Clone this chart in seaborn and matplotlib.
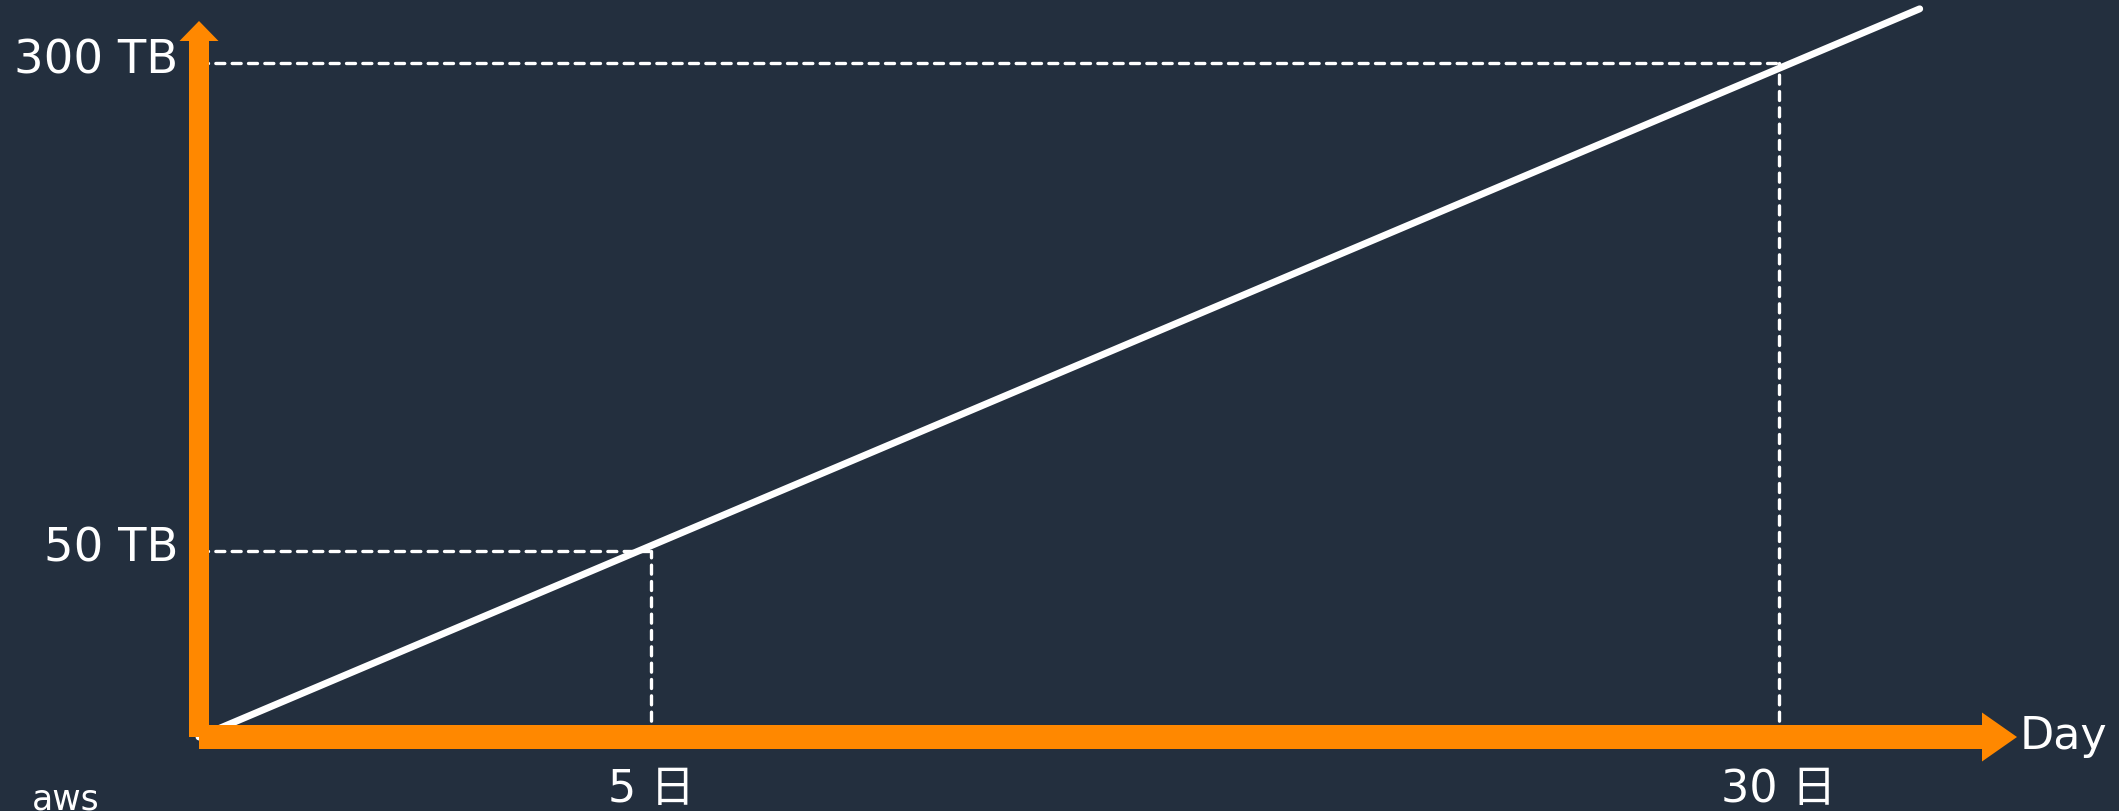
import numpy as np
import matplotlib
matplotlib.use('Agg')
import matplotlib.pyplot as plt
from matplotlib.patches import FancyArrow
from matplotlib.transforms import ScaledTranslation
import seaborn as sns

# data (10 TB per day)
days = [5, 30]
day_labels = ['5 日', '30 日']
volumes_tb = [50, 300]
volume_labels = ['50 TB', '300 TB']
growth_days = [0, 33.9]
growth_tb = [0, 334]

BG = '#232f3e'
ORANGE = '#ff8800'
W, H = 2119, 811

sns.set_style('dark', {'axes.facecolor': BG, 'figure.facecolor': BG})
plt.rcParams['font.family'] = ['DejaVu Sans', 'Noto Sans CJK JP']


def power_scale(p):
    # schematic axes: compressed like the slide drawing
    return (lambda v: np.sign(v) * np.abs(v) ** p,
            lambda v: np.sign(v) * np.abs(v) ** (1 / p))


fig = plt.figure(figsize=(W / 100, H / 100), dpi=100)
ax = fig.add_axes([199 / W, (H - 737) / H, 1580 / W, 674 / H])
ax.set_xscale('function', functions=power_scale(0.698))
ax.set_yscale('function', functions=power_scale(0.72))
ax.set_xlim(0, 30)
ax.set_ylim(0, 300)

# dashed guides
for d, v in zip(days, volumes_tb):
    ax.plot([0, d], [v, v], color='white', lw=2.4, dashes=(2.7, 2.2),
            dash_capstyle='round', zorder=1, clip_on=False)
    ax.plot([d, d], [0, v], color='white', lw=2.4, dashes=(2.7, 2.2),
            dash_capstyle='round', zorder=1, clip_on=False)

sns.lineplot(x=growth_days, y=growth_tb, ax=ax, color='white', lw=5,
             solid_capstyle='round', zorder=2, clip_on=False)

# orange axis arrows
ax.add_patch(FancyArrow(0, 0, (2017 - 199) / 1580, 0, width=24 / 674,
                        head_width=49 / 674, head_length=35 / 1580,
                        length_includes_head=True, transform=ax.transAxes,
                        color=ORANGE, lw=0, zorder=3, clip_on=False))
ax.add_patch(FancyArrow(0, 0, 0, (737 - 21) / 674, width=20 / 1580,
                        head_width=39 / 1580, head_length=20 / 674,
                        length_includes_head=True, transform=ax.transAxes,
                        color=ORANGE, lw=0, zorder=3, clip_on=False))

ax.set_xticks(days, day_labels, fontsize=32, color='white')
ax.set_yticks(volumes_tb, volume_labels, fontsize=33.5, color='white')
ax.tick_params(length=0)
ax.tick_params(axis='x', pad=22)
ax.tick_params(axis='y', pad=15)
shift = ScaledTranslation(0, 7 / 100, fig.dpi_scale_trans)
for t in ax.yaxis.get_major_ticks():
    t.label1.set_transform(t.label1.get_transform() + shift)
ax.grid(False)
for s in ax.spines.values():
    s.set_visible(False)

ax.set_xlabel('Day', fontsize=32, color='white', ha='left', va='center')
ax.xaxis.set_label_coords((2020 - 199) / 1580, 0)

fig.text(32 / W, 1 / H, 'aws', fontsize=25, color='white', va='baseline')

plt.savefig('out.png', dpi=100, facecolor=BG)
